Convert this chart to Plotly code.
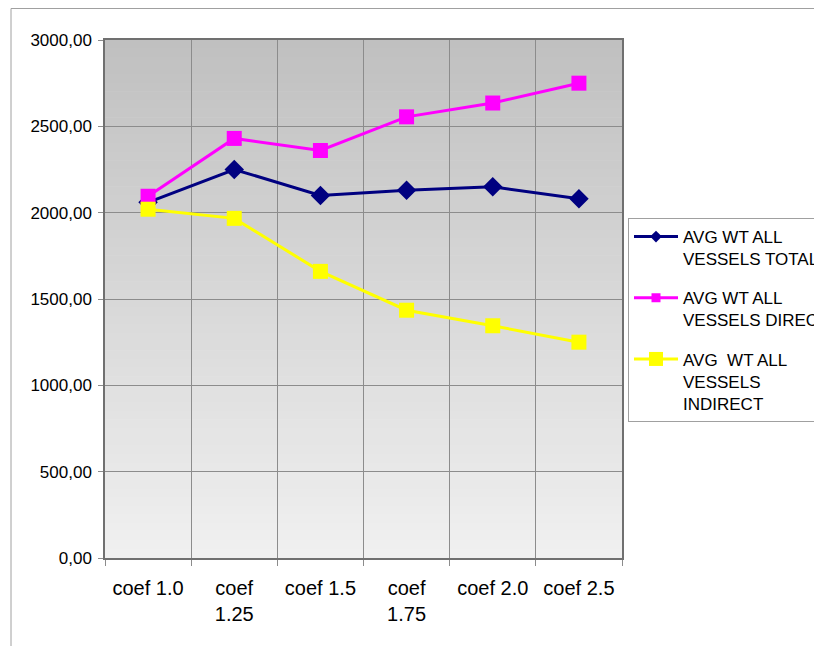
import plotly.graph_objects as go

categories = ["coef 1.0", "coef<br>1.25", "coef 1.5", "coef<br>1.75", "coef 2.0", "coef 2.5"]
total = [2060, 2250, 2100, 2130, 2150, 2080]
direct = [2095, 2430, 2360, 2555, 2635, 2750]
indirect = [2020, 1967, 1660, 1435, 1345, 1250]
series_names = ["AVG WT ALL<br>VESSELS TOTAL", "AVG WT ALL<br>VESSELS DIRECT", "AVG  WT ALL<br>VESSELS<br>INDIRECT"]
y_tickvals = [0, 500, 1000, 1500, 2000, 2500, 3000]
y_ticktext = ["0,00", "500,00", "1000,00", "1500,00", "2000,00", "2500,00", "3000,00"]

FONT = "Liberation Sans, Arial, sans-serif"
colors = ["#000080", "#FF00FF", "#FFFF00"]
symbols = ["diamond", "square", "square"]
legend_marker_sizes = [9, 9, 14]

fig = go.Figure()
for vals, name, col, sym, lsz, grp in zip([total, direct, indirect], series_names, colors, symbols,
                                           legend_marker_sizes, ["a", "b", "c"]):
    fig.add_trace(go.Scatter(x=categories, y=vals, name=name, mode="lines+markers",
                             line=dict(color=col, width=3),
                             marker=dict(symbol=sym, size=15, color=col),
                             showlegend=False, legendgroup=grp))
    # legend entry with the smaller legend marker
    fig.add_trace(go.Scatter(x=[None], y=[None], name=name, mode="lines+markers",
                             line=dict(color=col, width=3),
                             marker=dict(symbol=sym, size=lsz, color=col),
                             showlegend=True, legendgroup=grp))

W, H = 814, 646
L, R, T, B = 105, 192, 40, 88
pw, ph = W - L - R, H - T - B
def px(x):
    return (x - L) / pw
def py(y):
    return (H - B - y) / ph

# gradient background bands
n = 60
top = (192, 192, 192)
bot = (240, 240, 240)
shapes = []
for i in range(n):
    t = i / (n - 1)
    c = tuple(int(round(top[k] + (bot[k] - top[k]) * t)) for k in range(3))
    shapes.append(dict(type="rect", xref="x domain", yref="y domain",
                       x0=0, x1=1, y0=1 - (i + 1) / n, y1=1 - i / n + 0.001,
                       fillcolor="rgb(%d,%d,%d)" % c, line=dict(width=0), layer="below"))

# outer chart border (top and left visible)
shapes.append(dict(type="line", xref="paper", yref="paper", x0=px(11), x1=px(900), y0=py(8.5), y1=py(8.5),
                   line=dict(color="#a0a0a0", width=1)))
shapes.append(dict(type="line", xref="paper", yref="paper", x0=px(11), x1=px(11), y0=py(8.5), y1=py(700),
                   line=dict(color="#a0a0a0", width=1)))

fig.update_layout(
    width=W, height=H,
    margin=dict(l=L, r=R, t=T, b=B, autoexpand=False),
    paper_bgcolor="white",
    plot_bgcolor="#eeeeee",
    font=dict(family=FONT, color="black"),
    shapes=shapes,
    showlegend=True,
    legend=dict(x=px(628), y=py(218), xanchor="left", yanchor="top",
                bordercolor="#a0a0a0", borderwidth=1, bgcolor="white",
                font=dict(size=17, family=FONT), valign="top",
                tracegroupgap=14, itemwidth=44),
    xaxis=dict(type="category", tickson="boundaries", showgrid=True, gridcolor="#8c8c8c", gridwidth=1,
               ticks="outside", ticklen=6, tickcolor="#8c8c8c",
               showline=True, linecolor="#707070", linewidth=1.5, mirror=True,
               tickfont=dict(size=20), range=[-0.5, 5.5], ticklabelstandoff=11),
    yaxis=dict(range=[0, 3000], tickvals=y_tickvals, ticktext=y_ticktext,
               showgrid=True, gridcolor="#8c8c8c", gridwidth=1,
               ticks="outside", ticklen=5, tickcolor="#8c8c8c",
               showline=True, linecolor="#707070", linewidth=1.5, mirror=True,
               tickfont=dict(size=17), zeroline=False, ticklabelstandoff=3),
)

fig.write_html("out.html", config={"displayModeBar": False},
               post_script="document.body.style.margin='0';document.body.style.overflow='hidden';")
